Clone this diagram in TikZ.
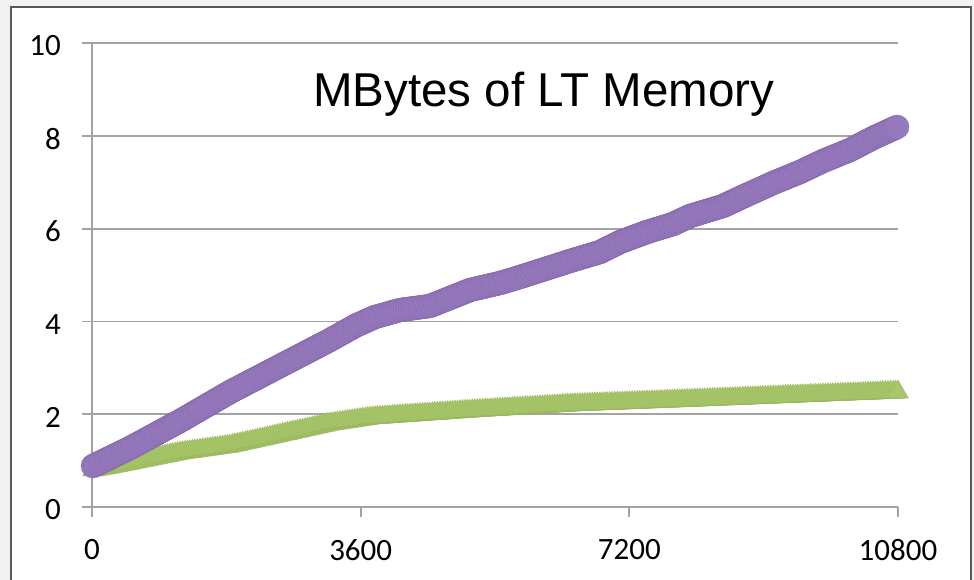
\documentclass[tikz,border=0pt]{standalone}
\usepackage{fontspec}
\setmainfont{Liberation Sans}
\newfontfamily\ticksfont{Carlito}
\usetikzlibrary{shapes.geometric}

\definecolor{pagebg}{HTML}{F2F2F2}
\definecolor{framecol}{HTML}{595959}
\definecolor{gridcol}{HTML}{A3A3A3}
\definecolor{ltfill}{HTML}{967ABD}
\definecolor{ltedge}{HTML}{8265A8}
\definecolor{stfill}{HTML}{A8C76A}
\definecolor{stedge}{HTML}{97B35A}

\tikzset{
  gridline/.style={draw=gridcol, line width=1.8pt},
  ticklabel/.style={font=\ticksfont\fontsize{31}{31}\selectfont, inner sep=0pt},
  ltdot/.style={circle, minimum size=24pt, inner sep=0pt, fill=ltfill, draw=ltedge, line width=0.3pt},
  sttri/.style={regular polygon, regular polygon sides=3, minimum size=24pt, inner sep=0pt, fill=stfill, draw=stedge, line width=0.3pt},
}

% Place markers densely along a polyline.
% #1 marker style, #2/#3 first point, #4 remaining points x/y
\newcommand\markerrun[4]{%
  \foreach \xb/\yb [remember=\xb as \xa (initially #2), remember=\yb as \ya (initially #3)] in {#4} {
    \pgfmathsetmacro\nseg{int(max(1,round(veclen(\xb-\xa,\yb-\ya)/2.5)))}
    \foreach \k in {1,...,\nseg} {
      \pgfmathsetmacro\px{\xa+(\xb-\xa)*\k/\nseg}
      \pgfmathsetmacro\py{\ya+(\yb-\ya)*\k/\nseg}
      \node[#1] at (\px,\py) {};
    }
  }%
}

\begin{document}
\begin{tikzpicture}[x=1pt, y=-1pt]
  % page and chart frame
  \useasboundingbox (0,0) rectangle (974,580);
  \fill[pagebg] (0,0) rectangle (974,580);
  \draw[framecol, fill=white, line width=2.5pt] (11,7) rectangle (971,620);

  % horizontal gridlines (0 to 10 in steps of 2)
  \foreach \v/\yy in {0/507, 2/414.2, 4/321.4, 6/228.6, 8/135.8, 10/43} {
    \draw[gridline] (82,\yy) -- (898,\yy);
    \node[ticklabel, anchor=east] (ylab\v) at (61,\yy+3) {\v};
  }
  % vertical axis and x ticks
  \draw[gridline] (92,43) -- (92,517);
  \foreach \v/\xx in {0/92, 3600/360.67, 7200/629.33, 10800/898} {
    \draw[gridline] (\xx,507) -- (\xx,517);
    \node[ticklabel] (xlab\v) at (\xx,550) {\v};
  }

  % short-term memory series (triangles)
  \node[sttri] (ststart) at (93,470) {};
  \markerrun{sttri}{93}{470}{115/466, 150/459, 180/453, 230/446, 280/435, 330/424,
      370/418, 470/411, 570/405, 647/402, 773/397, 898/392}

  % long-term memory series (circles)
  \node[ltdot] (ltstart) at (93,466) {};
  \markerrun{ltdot}{93}{466}{130/448, 180/421, 230/392, 280/366, 330/340,
      355/326, 375/317, 400/310, 430/306, 445/300, 470/290, 500/283, 520/277,
      570/261, 600/252, 620/242, 647/232, 673/224, 690/216, 723/206,
      740/198, 773/183, 800/172, 823/161, 850/150, 873/138, 897/127}

  % title
  \node[anchor=base west, inner sep=0pt, font=\fontsize{47.5}{47.5}\selectfont] (title) at (313,107) {MBytes of LT Memory};
\end{tikzpicture}
\end{document}
